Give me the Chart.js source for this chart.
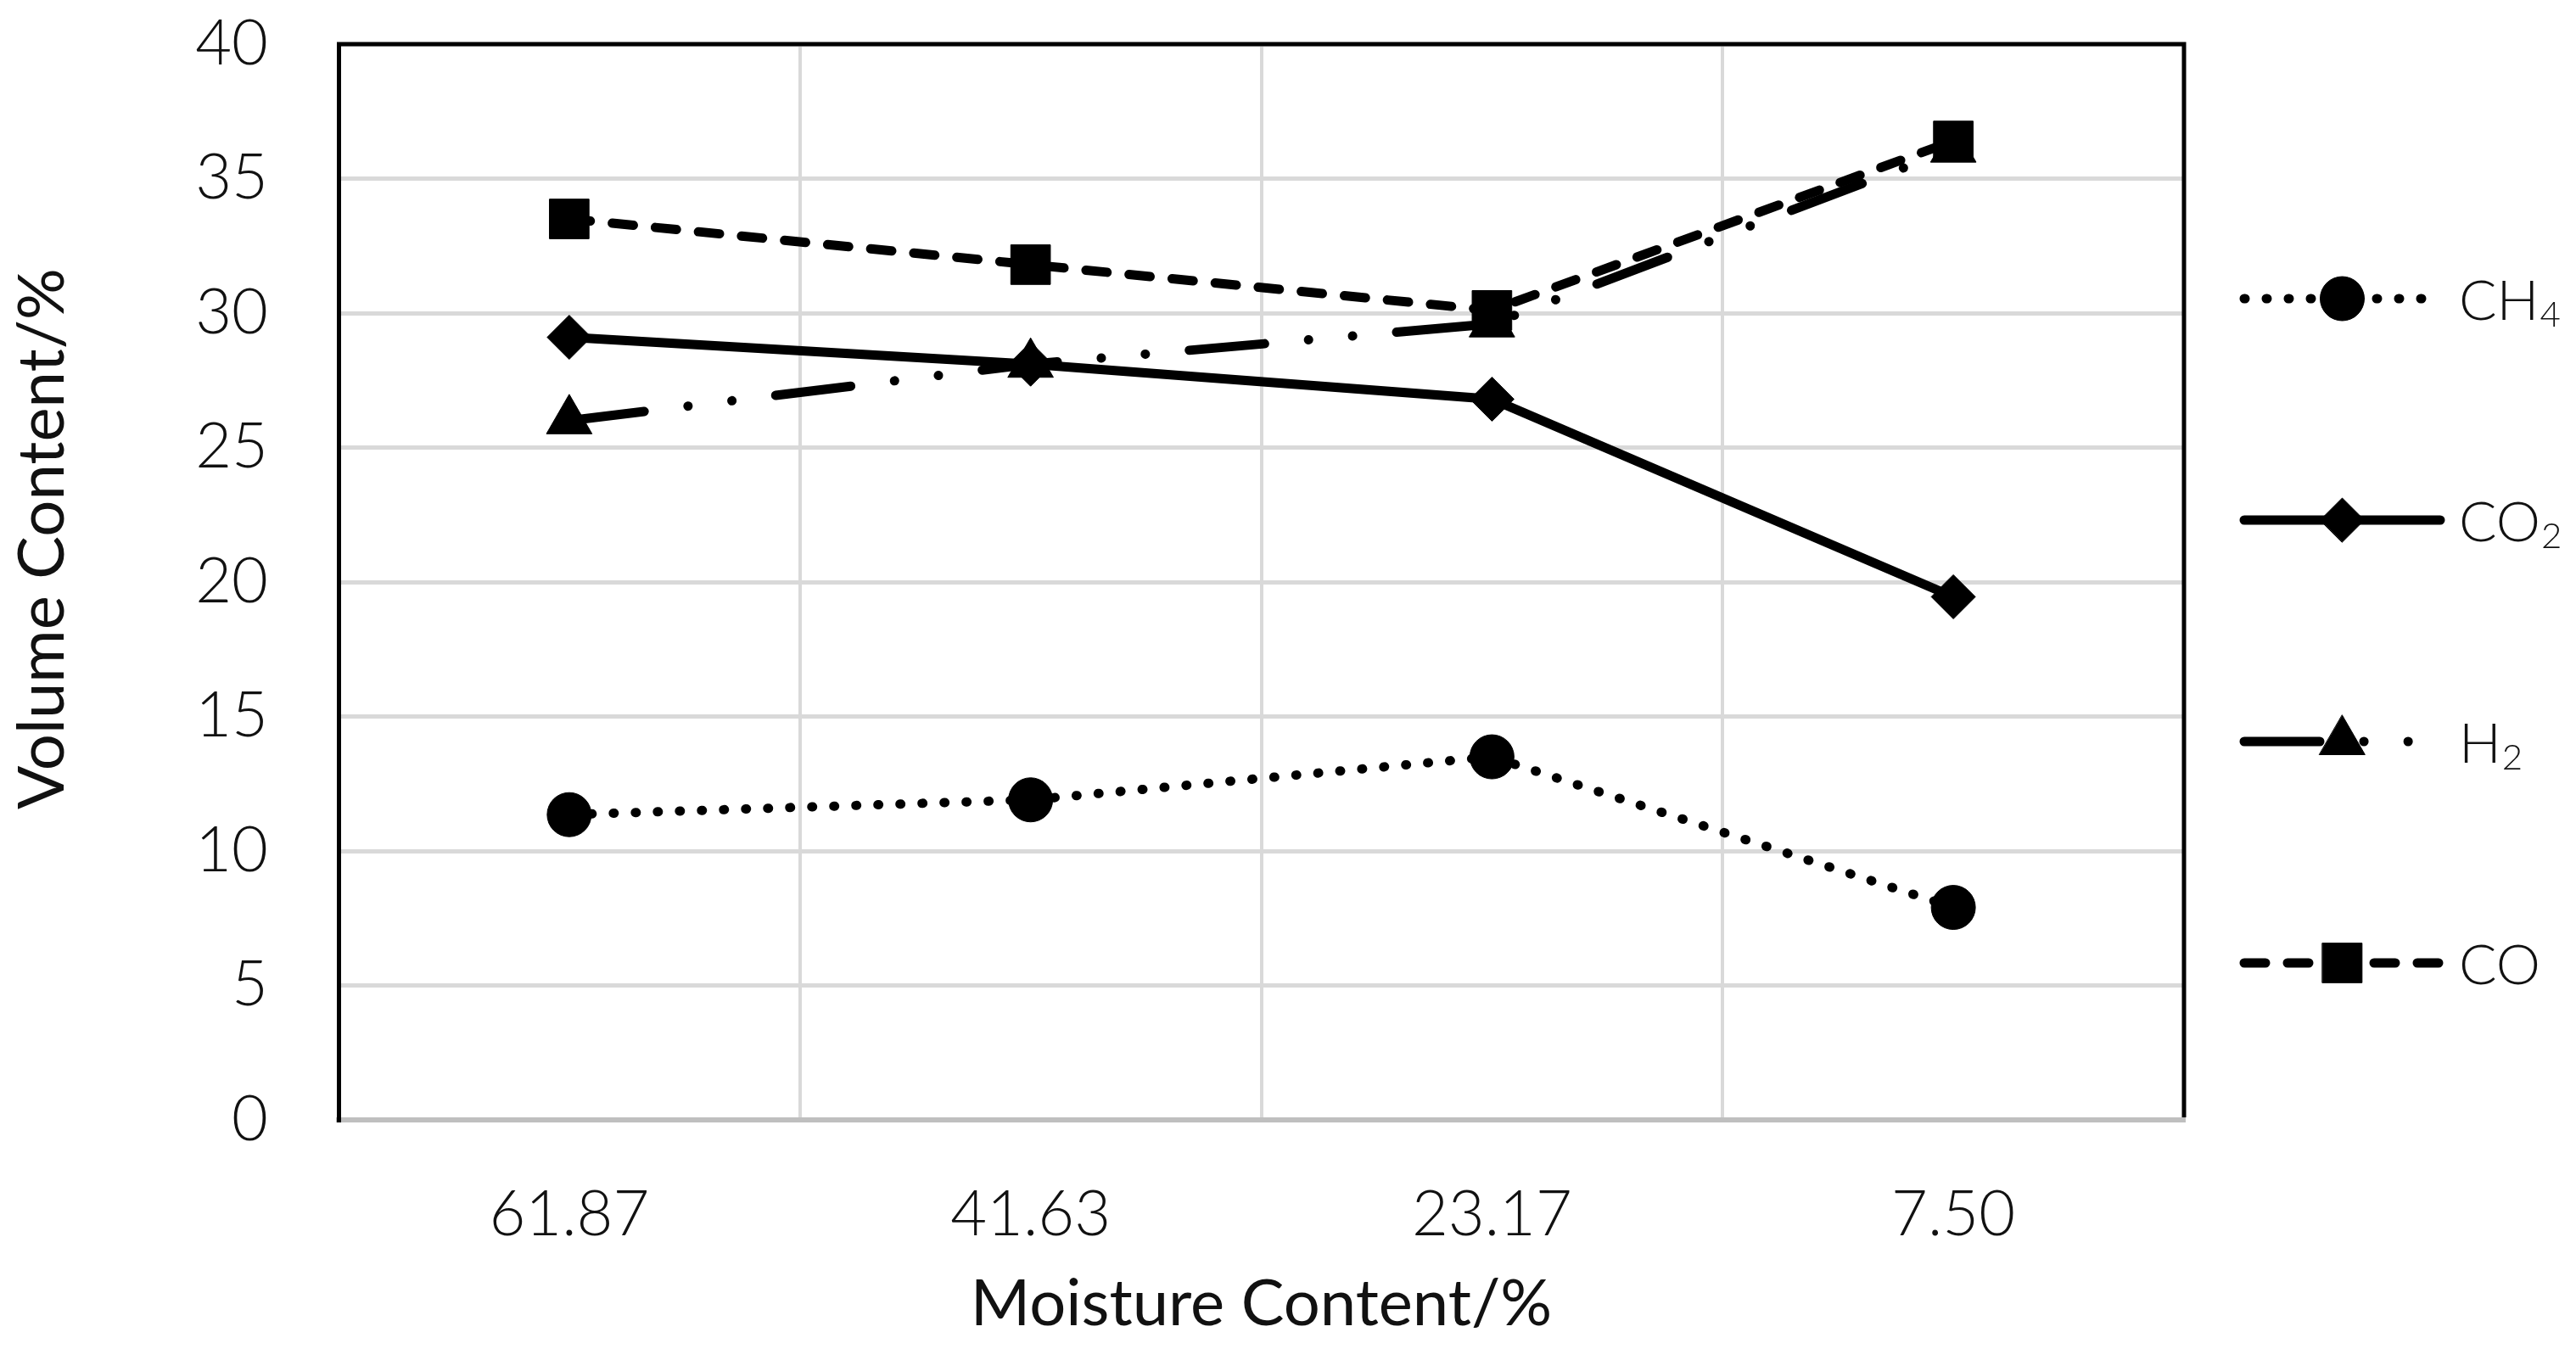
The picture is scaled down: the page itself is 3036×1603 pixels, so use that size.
<!DOCTYPE html>
<html>
<head>
<meta charset="utf-8">
<script src="https://cdn.jsdelivr.net/npm/chart.js@4/dist/chart.umd.min.js"></script>
<style>
  html, body { margin: 0; padding: 0; background: #fff; }
  #wrap { width: 3036px; height: 1603px; }
</style>
</head>
<body>
<div id="wrap"><canvas id="gasChart"></canvas></div>
<script>
// Gas composition vs moisture content

const moistureLabels = ['61.87', '41.63', '23.17', '7.50'];
const seriesNames = ['CH₄', 'CO₂', 'H₂', 'CO'];

const ch4Values = [11.35, 11.9, 13.5, 7.9];
const co2Values = [29.1, 28.1, 26.8, 19.45];
const h2Values = [26.0, 28.1, 29.6, 36.1];
const coValues = [33.5, 31.8, 30.1, 36.4];

const yTicks = [0, 5, 10, 15, 20, 25, 30, 35, 40];

const INK = '#111';
const FONT = 'Lato, "Open Sans", sans-serif';

// frame on top and right of the plot area (Excel style)
const framePlugin = {
    id: 'frame',
    beforeDatasetsDraw(chart) {
        const a = chart.chartArea;
        const ctx = chart.ctx;
        ctx.save();
        ctx.strokeStyle = '#000';
        ctx.lineWidth = 5;
        ctx.beginPath();
        ctx.moveTo(a.left - 2, a.top);
        ctx.lineTo(a.right, a.top);
        ctx.lineTo(a.right, a.bottom - 3);
        ctx.stroke();
        ctx.restore();
    }
};

// y title, placed like the original (slightly above the plot centre)
const yTitlePlugin = {
    id: 'yTitle',
    afterDraw(chart) {
        const ctx = chart.ctx;
        ctx.save();
        ctx.translate(50, 635);
        ctx.rotate(-Math.PI / 2);
        ctx.font = '400 76px ' + FONT;
        ctx.fillStyle = INK;
        ctx.textAlign = 'center';
        ctx.textBaseline = 'middle';
        ctx.fillText('Volume Content/%', 0, 0);
        ctx.restore();
    }
};

// legend with a line sample and marker, like Excel
const subDigits = '₀₁₂₃₄₅₆₇₈₉';
const lineLegendPlugin = {
    id: 'lineLegend',
    afterDraw(chart) {
        const ctx = chart.ctx;
        const x0 = 2645, x1 = 2876, textX = 2898;
        chart.data.datasets.forEach((ds, i) => {
            const y = 352 + i * 261;
            ctx.save();
            ctx.strokeStyle = ds.borderColor;
            ctx.lineWidth = ds.borderWidth;
            ctx.lineCap = ds.borderCapStyle || 'butt';
            ctx.setLineDash(ds.borderDash || []);
            ctx.beginPath();
            ctx.moveTo(x0, y);
            ctx.lineTo(x1, y);
            ctx.stroke();
            ctx.setLineDash([]);
            ctx.fillStyle = ds.pointBackgroundColor;
            ctx.strokeStyle = ds.pointBorderColor;
            ctx.lineWidth = ds.pointBorderWidth;
            Chart.helpers.drawPoint(ctx, {
                pointStyle: ds.pointStyle,
                radius: ds.pointRadius,
                borderWidth: ds.pointBorderWidth,
                rotation: 0
            }, (x0 + x1) / 2, y);

            // text with subscript digits drawn smaller and lowered
            const name = seriesNames[i];
            let base = '', sub = '';
            for (const ch of name) {
                const k = subDigits.indexOf(ch);
                if (k >= 0) sub += String(k); else base += ch;
            }
            ctx.fillStyle = INK;
            ctx.textBaseline = 'alphabetic';
            ctx.textAlign = 'left';
            ctx.font = '300 66px ' + FONT;
            const baseline = y + 25;
            ctx.fillText(base, textX, baseline);
            if (sub) {
                const w = ctx.measureText(base).width;
                ctx.font = '300 42px ' + FONT;
                ctx.fillText(sub, textX + w + 1, baseline + 8);
            }
            ctx.restore();
        });
    }
};

function makeDataset(label, values, opts) {
    return Object.assign({
        label: label,
        data: values,
        borderColor: '#000',
        backgroundColor: '#000',
        pointBackgroundColor: '#000',
        pointBorderColor: '#000',
        pointBorderWidth: 1,
        borderWidth: 11,
        tension: 0,
        fill: false
    }, opts);
}

const ctx = document.getElementById('gasChart').getContext('2d');

new Chart(ctx, {
    type: 'line',
    data: {
        labels: moistureLabels,
        datasets: [
            makeDataset(seriesNames[0], ch4Values, {
                pointStyle: 'circle', pointRadius: 26,
                borderDash: [1, 25], borderCapStyle: 'round', order: 4
            }),
            makeDataset(seriesNames[1], co2Values, {
                pointStyle: 'rectRot', pointRadius: 26,
                borderCapStyle: 'round', order: 3
            }),
            makeDataset(seriesNames[2], h2Values, {
                pointStyle: 'triangle', pointRadius: 31,
                borderDash: [89, 52, 0.1, 52, 0.1, 52], borderCapStyle: 'round', order: 2
            }),
            makeDataset(seriesNames[3], coValues, {
                pointStyle: 'rect', pointRadius: 33,
                borderDash: [25, 26], borderCapStyle: 'round', order: 1
            })
        ]
    },
    options: {
        responsive: true,
        maintainAspectRatio: false,
        animation: false,
        devicePixelRatio: 1,
        layout: {
            autoPadding: false,
            padding: { left: 0, right: 462, top: 52, bottom: 0 }
        },
        plugins: {
            legend: { display: false },
            tooltip: { enabled: false }
        },
        scales: {
            x: {
                offset: true,
                grid: {
                    offset: true,
                    color: '#d9d9d9',
                    lineWidth: 4,
                    drawTicks: false
                },
                border: { color: '#bfbfbf', width: 6 },
                ticks: {
                    color: INK,
                    padding: 68,
                    font: { family: FONT, size: 74, weight: '300' }
                },
                title: {
                    display: true,
                    text: 'Moisture Content/%',
                    color: INK,
                    padding: { top: 0, bottom: 20 },
                    font: { family: FONT, size: 76, weight: '400' }
                },
                afterFit(scale) {
                    scale.height = 283;
                    scale.paddingLeft = 0;
                    scale.paddingRight = 0;
                }
            },
            y: {
                min: 0,
                max: 40,
                afterBuildTicks(scale) {
                    scale.ticks = yTicks.map(v => ({ value: v }));
                },
                grid: {
                    color: '#d9d9d9',
                    lineWidth: 5,
                    drawTicks: false
                },
                border: { color: '#000', width: 5 },
                ticks: {
                    color: INK,
                    padding: 83,
                    font: { family: FONT, size: 74, weight: '300' }
                },
                afterFit(scale) {
                    scale.width = 399;
                    scale.paddingTop = 0;
                    scale.paddingBottom = 0;
                }
            }
        }
    },
    plugins: [framePlugin, yTitlePlugin, lineLegendPlugin]
});
</script>
</body>
</html>
